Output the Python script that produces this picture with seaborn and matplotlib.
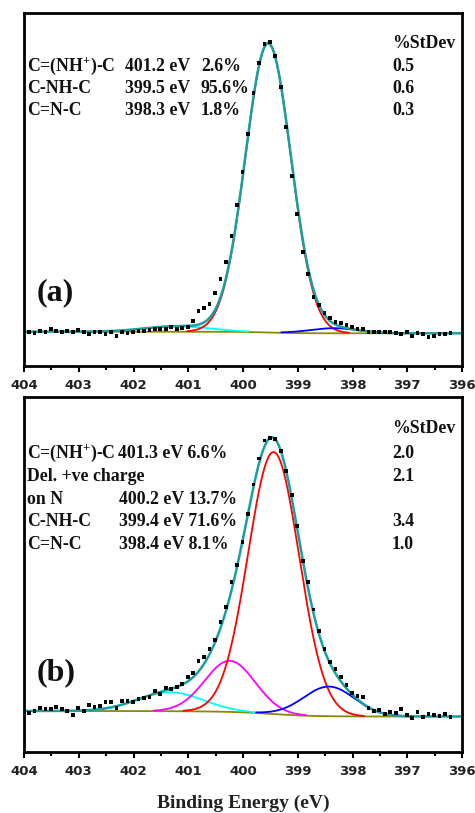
import numpy as np
import pandas as pd
import matplotlib
matplotlib.use("Agg")
import matplotlib.pyplot as plt
import seaborn as sns
from matplotlib.ticker import MultipleLocator, FormatStrFormatter

sns.set_theme(style="white")
plt.rcParams["font.family"] = ["Liberation Serif", "DejaVu Serif"]
plt.rcParams["mathtext.fontset"] = "custom"
plt.rcParams["mathtext.rm"] = "Liberation Serif:bold"
plt.rcParams["mathtext.bf"] = "Liberation Serif:bold"
plt.rcParams["mathtext.it"] = "Liberation Serif:bold"

# ---- measured N 1s spectra (0.1 eV step) ----
energy = np.round(403.91 - 0.1 * np.arange(78), 2)

counts_a = [33.7, 32.7, 35.3, 34.3, 36.7, 35.3, 34.3, 35.3, 34.3, 36.0,
            34.3, 32.0, 34.3, 33.7, 32.0, 33.7, 30.0, 33.7, 33.3, 34.3,
            35.3, 35.3, 36.0, 36.7, 36.7, 36.7, 38.7, 36.7, 37.7, 38.7,
            45.0, 55.3, 57.7, 61.7, 73.0, 87.0, 104.0, 130.0, 161.0, 194.3,
            232.3, 272.7, 302.7, 322.3, 323.7, 310.3, 279.3, 239.0, 190.3, 152.3,
            114.3, 91.7, 69.3, 61.0, 52.7, 47.7, 43.7, 42.7, 41.0, 39.3,
            36.7, 36.7, 34.3, 34.3, 33.7, 33.7, 33.7, 32.7, 31.7, 33.7,
            30.3, 32.7, 31.7, 29.3, 30.3, 31.7, 31.7, 32.7]

counts_b = [38.7, 41.3, 44.3, 42.7, 42.7, 45.3, 42.7, 41.3, 37.0, 44.3,
            41.0, 47.0, 45.3, 46.0, 50.3, 50.3, 43.7, 51.3, 51.3, 50.3,
            52.7, 53.7, 54.7, 61.0, 58.0, 63.7, 62.7, 65.3, 68.0, 75.3,
            78.7, 91.0, 95.0, 102.7, 112.0, 130.0, 145.3, 170.3, 187.0, 210.3,
            238.0, 267.5, 293.5, 311.5, 314.3, 313.2, 301.0, 281.0, 257.0, 226.0,
            191.0, 170.0, 142.5, 121.3, 103.0, 90.3, 82.7, 75.3, 67.0, 59.3,
            56.0, 55.3, 44.3, 41.3, 42.0, 38.0, 40.3, 39.3, 43.0, 37.0,
            33.7, 40.3, 35.3, 37.7, 37.0, 36.3, 37.7, 35.3]

# ---- fitted components (centre in eV, area share in %, FWHM in eV) ----
species_a = ["C=(NH$^{+}$)-C", "C-NH-C", "C=N-C"]
centers_a = [401.20, 399.54, 398.34]
shares_a = [2.6, 95.6, 1.8]
stdev_a = ["0.5", "0.6", "0.3"]
fwhm_a = [1.40, 0.98, 1.05]
colors_a = ["#00ffff", "#ff0000", "#0000ff"]
total_area_a = 315.4
background_a = (34.3, 32.7)

species_b = ["C=(NH$^{+}$)-C", "on N", "C-NH-C", "C=N-C"]
centers_b = [401.33, 400.24, 399.44, 398.43]
shares_b = [6.6, 13.7, 71.6, 8.1]
stdev_b = ["2.0", "2.1", "3.4", "1.0"]
fwhm_b = [1.40, 1.08, 1.10, 1.10]
colors_b = ["#00ffff", "#ff00ff", "#ff0000", "#0000ff"]
total_area_b = 428.5
background_b = (41.0, 35.5)

ENVELOPE = "#18a0a0"
BASELINE = "#8a8a00"
GAUSS_AREA = np.sqrt(np.pi / (4 * np.log(2)))


def gauss(e, c, w):
    return np.exp(-4 * np.log(2) * ((e - c) / w) ** 2)


def draw_panel(ax, counts, centers, shares, fwhm, colors, total, bg_levels):
    e = np.linspace(404.0, 396.0, 801)
    comps = []
    for c, s, w in zip(centers, shares, fwhm):
        h = s / 100.0 * total / (w * GAUSS_AREA)
        comps.append(h * gauss(e, c, w))
    peak_sum = np.sum(comps, axis=0)
    # Shirley-type step background (higher on the high binding-energy side)
    cum = np.cumsum(peak_sum[::-1])[::-1]
    hi, lo = bg_levels
    bg = lo + (hi - lo) * cum / cum[0]

    mbg = (e <= 403.2) & (e >= 396.9)
    sns.lineplot(x=e[mbg], y=bg[mbg], ax=ax, color=BASELINE, lw=1.3, sort=False)
    for comp, col in zip(comps, colors):
        m = comp > 0.5
        sns.lineplot(x=e[m], y=(bg + comp)[m], ax=ax, color=col, lw=1.3, sort=False)
    sns.lineplot(x=e, y=bg + peak_sum, ax=ax, color=ENVELOPE, lw=1.8, sort=False)

    df = pd.DataFrame({"energy": energy, "counts": counts})
    sns.scatterplot(data=df, x="energy", y="counts", ax=ax, color="black",
                    marker="s", s=7, edgecolor="none", zorder=5)


fig = plt.figure(figsize=(4.75, 8.13), dpi=100)
ax_a = fig.add_axes([24 / 475, 1 - 366 / 813, 438 / 475, 353 / 813])
ax_b = fig.add_axes([24 / 475, 1 - 752 / 813, 438 / 475, 355 / 813])

draw_panel(ax_a, counts_a, centers_a, shares_a, fwhm_a, colors_a,
           total_area_a, background_a)
draw_panel(ax_b, counts_b, centers_b, shares_b, fwhm_b, colors_b,
           total_area_b, background_b)

ax_a.set_ylim(0, 353)
ax_b.set_ylim(0, 355)

for ax in (ax_a, ax_b):
    ax.set_xlim(404, 396)
    ax.xaxis.set_major_locator(MultipleLocator(1))
    ax.xaxis.set_minor_locator(MultipleLocator(0.5))
    ax.xaxis.set_major_formatter(FormatStrFormatter("%d"))
    ax.set_yticks([])
    ax.set_ylabel("")
    ax.set_xlabel("")
    ax.tick_params(axis="x", which="both", direction="out", bottom=True, top=False,
                   color="black", width=1.5, pad=5)
    ax.tick_params(axis="x", which="major", length=4.5)
    ax.tick_params(axis="x", which="minor", length=3)
    for sp in ax.spines.values():
        sp.set_visible(True)
        sp.set_color("black")
        sp.set_linewidth(2.0)
    for lab in ax.get_xticklabels():
        lab.set_fontfamily("DejaVu Sans")
        lab.set_fontweight("bold")
        lab.set_fontsize(9.5)
        lab.set_color("#222222")

ax_b.set_xlabel("Binding Energy (eV)", fontsize=14, fontweight="bold",
                color="#222222", labelpad=12)

TXT = dict(fontsize=12.8, fontweight="bold", color="#111111", va="baseline",
           ha="left")

# panel (a) annotations
rows_a_y = [0.836, 0.774, 0.7116]
ax_a.text(0.84, 0.901, "%StDev", transform=ax_a.transAxes, **TXT)
for y, name, c, s, sd in zip(rows_a_y, species_a, centers_a, shares_a, stdev_a):
    ax_a.text(0.007, y, name, transform=ax_a.transAxes, **TXT)
    ax_a.text(0.2306, y, f"{c:.1f} eV", transform=ax_a.transAxes, **TXT)
    ax_a.text(0.404, y, f"{s:.1f}%", transform=ax_a.transAxes, **TXT)
    ax_a.text(0.84, y, sd, transform=ax_a.transAxes, **TXT)
ax_a.text(0.0297, 0.2068, "(a)", transform=ax_a.transAxes, fontsize=23,
          fontweight="bold", color="#111111", va="center", ha="left")

# panel (b) annotations
ax_b.text(0.84, 0.899, "%StDev", transform=ax_b.transAxes, **TXT)
ax_b.text(0.007, 0.829, species_b[0], transform=ax_b.transAxes, **TXT)
ax_b.text(0.2146, 0.829, f"{centers_b[0]:.1f} eV {shares_b[0]:.1f}%",
          transform=ax_b.transAxes, **TXT)
ax_b.text(0.84, 0.829, stdev_b[0], transform=ax_b.transAxes, **TXT)
ax_b.text(0.007, 0.764, "Del. +ve charge", transform=ax_b.transAxes, **TXT)
ax_b.text(0.84, 0.764, stdev_b[1], transform=ax_b.transAxes, **TXT)
rows_b_y = [0.699, 0.637, 0.5724]
for y, i in zip(rows_b_y, [1, 2, 3]):
    ax_b.text(0.007, y, species_b[i], transform=ax_b.transAxes, **TXT)
    ax_b.text(0.218, y, f"{centers_b[i]:.1f} eV {shares_b[i]:.1f}%",
              transform=ax_b.transAxes, **TXT)
    if i > 1:
        ax_b.text(0.84, y, stdev_b[i], transform=ax_b.transAxes, **TXT)
ax_b.text(0.0297, 0.2225, "(b)", transform=ax_b.transAxes, fontsize=23,
          fontweight="bold", color="#111111", va="center", ha="left")

fig.savefig("out.png", dpi=100)
